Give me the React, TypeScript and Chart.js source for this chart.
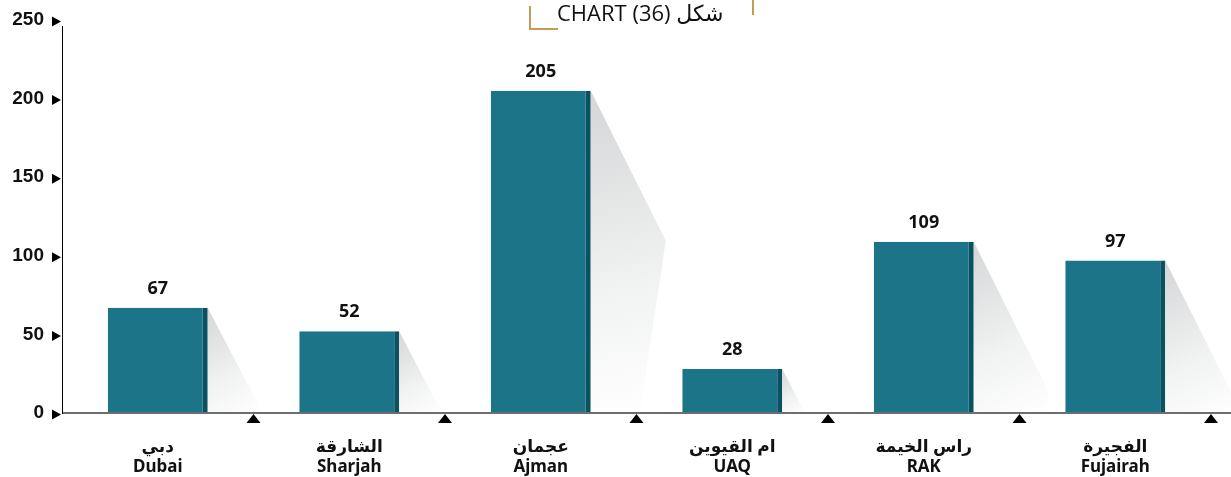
import React, { useEffect, useRef } from 'react';
import { Chart, registerables } from 'chart.js';

Chart.register(...registerables);

const categoriesAr = ['دبي', 'الشارقة', 'عجمان', 'ام القيوين', 'راس الخيمة', 'الفجيرة'];
const categoriesEn = ['Dubai', 'Sharjah', 'Ajman', 'UAQ', 'RAK', 'Fujairah'];
const values = [67, 52, 205, 28, 109, 97];
const yMin = 0;
const yMax = 250;
const yStep = 50;
const titleText = 'CHART (36) شكل';

const BAR_COLOR = '#1c7488';
const BAR_DARK = '#0a5260';
const GOLD = '#c39a57';

const decorPlugin = {
  id: 'decor',
  beforeDatasetsDraw(chart: any) {
    const ctx = chart.ctx;
    const meta = chart.getDatasetMeta(0);
    meta.data.forEach((bar: any) => {
      const R = bar.x + bar.width / 2;
      const top = bar.y;
      const base = bar.base;
      const h = base - top;
      ctx.save();
      ctx.beginPath();
      ctx.moveTo(R, top);
      let maxX: number;
      if (h <= 150) {
        maxX = R + h * 0.52;
        ctx.lineTo(maxX, base);
      } else {
        maxX = R + 75;
        ctx.lineTo(maxX, top + 150);
        ctx.lineTo(maxX - (h - 150) * 0.15, base);
      }
      ctx.lineTo(R, base);
      ctx.closePath();
      const g = ctx.createLinearGradient(R, top, maxX, base);
      g.addColorStop(0, 'rgba(212,214,215,1)');
      g.addColorStop(0.6, 'rgba(241,242,242,1)');
      g.addColorStop(1, 'rgba(255,255,255,1)');
      ctx.fillStyle = g;
      ctx.fill();
      ctx.restore();
    });
  },
  afterDraw(chart: any) {
    const ctx = chart.ctx;
    const area = chart.chartArea;
    const xs = chart.scales.x;
    const ys = chart.scales.y;
    const baseY = ys.getPixelForValue(0);
    ctx.save();

    // x axis line
    ctx.strokeStyle = '#6e6e6e';
    ctx.lineWidth = 2;
    ctx.beginPath();
    ctx.moveTo(area.left, baseY);
    ctx.lineTo(chart.width, baseY);
    ctx.stroke();

    // y axis line
    ctx.strokeStyle = '#000';
    ctx.lineWidth = 1;
    ctx.beginPath();
    ctx.moveTo(area.left + 0.5, ys.getPixelForValue(yMax) + 6);
    ctx.lineTo(area.left + 0.5, baseY + 1);
    ctx.stroke();

    // y tick triangles
    ctx.fillStyle = '#000';
    ys.ticks.forEach((t: any) => {
      const y = ys.getPixelForValue(t.value) + 1.5;
      ctx.beginPath();
      ctx.moveTo(area.left - 10, y - 5);
      ctx.lineTo(area.left - 1, y);
      ctx.lineTo(area.left - 10, y + 5);
      ctx.closePath();
      ctx.fill();
    });

    // x boundary triangles
    const catW = (area.right - area.left) / values.length;
    for (let i = 0; i < values.length; i++) {
      const cx = xs.getPixelForValue(i) + catW / 2;
      ctx.beginPath();
      ctx.moveTo(cx, baseY + 1);
      ctx.lineTo(cx + 7, baseY + 10);
      ctx.lineTo(cx - 7, baseY + 10);
      ctx.closePath();
      ctx.fill();
    }

    // data labels
    const meta = chart.getDatasetMeta(0);
    ctx.font = 'bold 18px "Noto Sans", sans-serif';
    ctx.textAlign = 'center';
    ctx.textBaseline = 'middle';
    ctx.fillStyle = '#111';
    meta.data.forEach((bar: any, i: number) => {
      ctx.fillText(String(values[i]), bar.x, bar.y - 19);
    });

    // title
    ctx.font = '22px "Open Sans", "DejaVu Sans", sans-serif';
    ctx.textAlign = 'left';
    ctx.textBaseline = 'alphabetic';
    ctx.fillStyle = '#111';
    ctx.fillText(titleText, 557, 21);

    // gold brackets
    ctx.strokeStyle = GOLD;
    ctx.lineWidth = 2;
    ctx.beginPath();
    ctx.moveTo(530, 6);
    ctx.lineTo(530, 29);
    ctx.lineTo(558, 29);
    ctx.stroke();
    ctx.beginPath();
    ctx.moveTo(753, 0);
    ctx.lineTo(753, 15);
    ctx.stroke();

    ctx.restore();
  },
};

export default function App() {
  const ref = useRef<HTMLCanvasElement | null>(null);

  useEffect(() => {
    document.body.style.margin = '0';
    const canvas = ref.current;
    if (!canvas) return;
    const chart = new Chart(canvas, {
      type: 'bar',
      data: {
        labels: categoriesAr.map((a, i) => [a, categoriesEn[i]]),
        datasets: [
          {
            data: values,
            backgroundColor: BAR_COLOR,
            borderColor: BAR_DARK,
            borderWidth: { top: 0, left: 0, bottom: 0, right: 5 },
            borderSkipped: false,
            barPercentage: 1,
            categoryPercentage: 0.522,
          },
        ],
      },
      options: {
        responsive: false,
        animation: false,
        devicePixelRatio: 1,
        layout: { padding: { left: 0, right: 20, top: 20, bottom: 0 } },
        plugins: {
          legend: { display: false },
          tooltip: { enabled: false },
          title: { display: false },
        },
        scales: {
          x: {
            grid: { display: false, drawTicks: false },
            border: { display: false },
            ticks: {
              color: '#111',
              padding: 24,
              maxRotation: 0,
              autoSkip: false,
              font: { family: '"Noto Sans", "DejaVu Sans", sans-serif', size: 17, weight: 'bold', lineHeight: 1.2 },
            },
            afterFit: (s: any) => {
              s.height = 64;
              s.paddingLeft = 0;
              s.paddingRight = 0;
            },
          },
          y: {
            min: yMin,
            max: yMax,
            grid: { display: false, drawTicks: false },
            border: { display: false },
            ticks: {
              stepSize: yStep,
              color: '#111',
              padding: 18,
              font: { family: '"Liberation Sans", Arial, sans-serif', size: 19, weight: 'bold' },
            },
            afterFit: (s: any) => {
              s.width = 62;
              s.paddingTop = 0;
              s.paddingBottom = 0;
            },
          },
        },
      },
      plugins: [decorPlugin],
    });
    return () => chart.destroy();
  }, []);

  return (
    <div style={{ width: 1231, height: 477, position: 'relative', background: '#fff' }}>
      <canvas ref={ref} width={1231} height={477} style={{ display: 'block' }} />
    </div>
  );
}
